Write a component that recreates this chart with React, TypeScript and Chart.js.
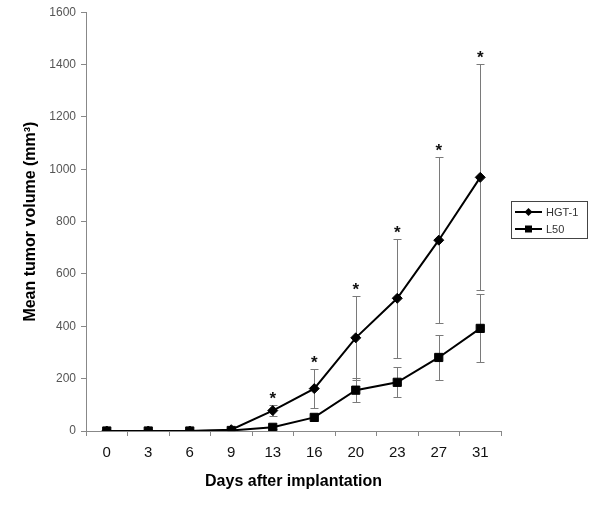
import React, { useEffect, useRef } from "react";
import { Chart, registerables } from "chart.js";

Chart.register(...registerables);

const days = ["0", "3", "6", "9", "13", "16", "20", "23", "27", "31"];
const hgtValues = [0, 0, 0, 5, 78, 162, 356, 507, 729, 969];
const hgtErrors = [0, 0, 0, 2, 22, 75, 160, 227, 316, 432];
const l50Values = [0, 0, 0, 2, 14, 52, 156, 186, 281, 392];
const l50Errors = [0, 0, 0, 1, 5, 12, 45, 58, 87, 130];
const significant = [false, false, false, false, true, true, true, true, true, true];
const yTicks = [0, 200, 400, 600, 800, 1000, 1200, 1400, 1600];

const errorsByDataset = [hgtErrors, l50Errors];

const errorBarPlugin = {
  id: "errorBars",
  beforeDatasetsDraw(chart: any) {
    const ctx = chart.ctx;
    const y = chart.scales.y;
    ctx.save();
    ctx.strokeStyle = "#7a7a7a";
    ctx.lineWidth = 1;
    chart.data.datasets.forEach((ds: any, di: number) => {
      const meta = chart.getDatasetMeta(di);
      const errs = errorsByDataset[di];
      meta.data.forEach((pt: any, i: number) => {
        const e = errs[i];
        if (!e) return;
        const v = ds.data[i];
        const x = Math.round(pt.x) + 0.5;
        const yt = Math.round(y.getPixelForValue(v + e)) + 0.5;
        const yb = Math.round(y.getPixelForValue(Math.max(0, v - e))) + 0.5;
        ctx.beginPath();
        ctx.moveTo(x, yt);
        ctx.lineTo(x, yb);
        ctx.moveTo(x - 4, yt);
        ctx.lineTo(x + 4, yt);
        ctx.moveTo(x - 4, yb);
        ctx.lineTo(x + 4, yb);
        ctx.stroke();
      });
    });
    ctx.restore();
  },
  afterDatasetsDraw(chart: any) {
    const ctx = chart.ctx;
    const y = chart.scales.y;
    const meta = chart.getDatasetMeta(0);
    ctx.save();
    ctx.fillStyle = "#111";
    ctx.font = "bold 17px 'Liberation Sans', Arial, sans-serif";
    ctx.textAlign = "center";
    ctx.textBaseline = "middle";
    meta.data.forEach((pt: any, i: number) => {
      if (!significant[i]) return;
      const top = y.getPixelForValue(hgtValues[i] + hgtErrors[i]);
      ctx.fillText("*", pt.x, top - 6);
    });
    ctx.restore();
  },
};

const legendPlugin = {
  id: "customLegend",
  afterDraw(chart: any) {
    const ctx = chart.ctx;
    const bx = 511.5, by = 201.5, bw = 76, bh = 37;
    ctx.save();
    ctx.strokeStyle = "#444";
    ctx.lineWidth = 1;
    ctx.strokeRect(bx, by, bw, bh);
    const rows = [212, 229];
    chart.data.datasets.forEach((ds: any, i: number) => {
      const yy = rows[i];
      ctx.strokeStyle = "#000";
      ctx.lineWidth = 2;
      ctx.beginPath();
      ctx.moveTo(515, yy);
      ctx.lineTo(542, yy);
      ctx.stroke();
      ctx.fillStyle = "#000";
      ctx.beginPath();
      if (i === 0) {
        const r = 4;
        ctx.moveTo(528.5, yy - r);
        ctx.lineTo(528.5 + r, yy);
        ctx.lineTo(528.5, yy + r);
        ctx.lineTo(528.5 - r, yy);
        ctx.closePath();
      } else {
        ctx.rect(525, yy - 3.5, 7, 7);
      }
      ctx.fill();
      ctx.fillStyle = "#333";
      ctx.font = "11px 'Liberation Sans', Arial, sans-serif";
      ctx.textAlign = "left";
      ctx.textBaseline = "middle";
      ctx.fillText(ds.label, 546, yy + 0.5);
    });
    ctx.restore();
  },
};

export default function App() {
  const ref = useRef<HTMLCanvasElement>(null);

  useEffect(() => {
    if (!ref.current) return;
    const chart = new Chart(ref.current, {
      type: "line",
      data: {
        labels: days,
        datasets: [
          {
            label: "HGT-1",
            data: hgtValues,
            borderColor: "#000",
            backgroundColor: "#000",
            borderWidth: 2,
            pointStyle: "rectRot",
            pointRadius: 5,
            pointBorderWidth: 1,
            pointBackgroundColor: "#000",
            pointBorderColor: "#000",
            tension: 0,
          },
          {
            label: "L50",
            data: l50Values,
            borderColor: "#000",
            backgroundColor: "#000",
            borderWidth: 2,
            pointStyle: "rect",
            pointRadius: 5.8,
            pointBorderWidth: 1,
            pointBackgroundColor: "#000",
            pointBorderColor: "#000",
            tension: 0,
          },
        ],
      },
      options: {
        responsive: false,
        animation: false,
        devicePixelRatio: 1,
        layout: { padding: { left: 0, top: 10, right: 99, bottom: 0 } },
        plugins: {
          legend: { display: false },
          tooltip: { enabled: false },
        },
        scales: {
          x: {
            type: "category",
            offset: true,
            grid: {
              offset: true,
              drawOnChartArea: false,
              drawTicks: true,
              tickLength: 5,
              color: "#888",
            },
            border: { display: true, color: "#888", width: 1 },
            ticks: {
              color: "#111",
              padding: 8,
              font: { family: "'Liberation Sans', Arial, sans-serif", size: 15 },
              maxRotation: 0,
              autoSkip: false,
            },
            title: {
              display: true,
              text: "Days after implantation",
              color: "#000",
              font: { family: "'Liberation Sans', Arial, sans-serif", size: 16, weight: "bold" },
              padding: { top: 0, bottom: 27 },
            },
            afterFit(scale: any) {
              scale.height = 87;
            },
          },
          y: {
            min: 0,
            max: 1600,
            afterBuildTicks(scale: any) {
              scale.ticks = yTicks.map((v) => ({ value: v }));
            },
            grid: {
              drawOnChartArea: false,
              drawTicks: true,
              tickLength: 5,
              color: "#888",
            },
            border: { display: true, color: "#888", width: 1 },
            ticks: {
              color: "#555",
              padding: 5,
              font: { family: "'Liberation Sans', Arial, sans-serif", size: 12 },
              callback: (v: any) => String(v),
            },
            title: {
              display: true,
              text: "Mean tumor volume (mm³)",
              color: "#000",
              font: { family: "'Liberation Sans', Arial, sans-serif", size: 16, weight: "bold" },
              padding: { top: 21, bottom: 0 },
            },
            afterFit(scale: any) {
              scale.width = 86;
            },
          },
        },
      },
      plugins: [errorBarPlugin, legendPlugin],
    } as any);
    return () => chart.destroy();
  }, []);

  return (
    <div style={{ position: "absolute", left: 0, top: 0, width: 600, height: 518, background: "#fff" }}>
      <canvas ref={ref} width={600} height={518} style={{ width: 600, height: 518, display: "block" }} />
    </div>
  );
}
